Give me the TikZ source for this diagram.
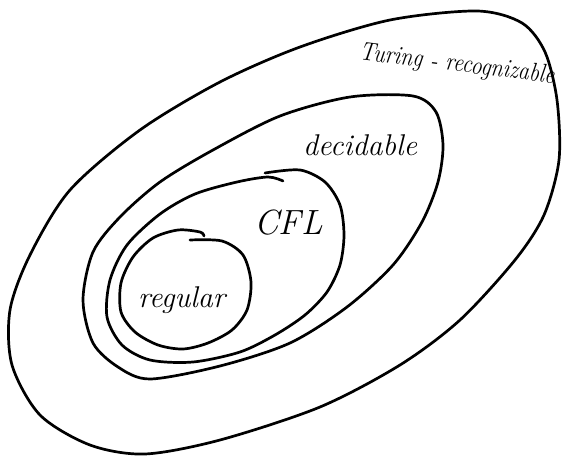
\documentclass[tikz,border=0pt]{standalone}
\begin{document}
\begin{tikzpicture}[x=1pt,y=-1pt,
  setline/.style={line width=2.7pt,line cap=round,line join=round},
  hand/.style={inner sep=0pt}]
\useasboundingbox (0,0) rectangle (562,457);
% outer: Turing-recognizable
\draw[setline] plot[smooth cycle] coordinates {
 (477,11) (522,23) (545,52) (557,100) (559,160) (544,215) (515,260) (460,320)
 (400,365) (320,407) (220,440) (145,454) (90,445) (40,415) (12,365) (10,310)
 (30,255) (70,190) (140,130) (220,82) (300,47) (390,20)};
% decidable
\draw[setline] plot[smooth cycle] coordinates {
 (413,96) (436,112) (443,145) (438,182) (422,222) (393,265) (347,307) (290,343)
 (220,366) (150,379) (118,367) (93,343) (83,300) (93,252) (120,217) (160,182)
 (213,150) (280,116) (350,97)};
% CFL
\draw[setline] plot[smooth] coordinates {
 (265,173) (300,170) (325,182) (340,205) (344,235) (340,265) (327,292) (305,315)
 (275,335) (240,352) (193,362) (150,360) (122,345) (107,317) (110,280) (127,245)
 (160,214) (195,194) (237,182) (268,177) (283,181)};
% regular
\draw[setline] plot[smooth] coordinates {
 (190,240) (222,241) (243,255) (251,282) (247,310) (232,330) (208,343) (183,349)
 (158,345) (135,332) (121,312) (121,283) (133,257) (153,238) (178,230) (200,232) (204,236)};
% labels
\node[hand,rotate=-7,xscale=0.85,font=\itshape\fontsize{26}{26}\selectfont] (tr) at (457,65) {Turing - recognizable};
\node[hand,anchor=base west,font=\itshape\fontsize{30}{30}\selectfont] (dec) at (303,156) {decidable};
\node[hand,anchor=base west,font=\itshape\fontsize{35}{35}\selectfont] (cfl) at (254,234) {CFL};
\node[hand,anchor=base west,font=\itshape\fontsize{30}{30}\selectfont] (reg) at (138,307) {regular};
\end{tikzpicture}
\end{document}
